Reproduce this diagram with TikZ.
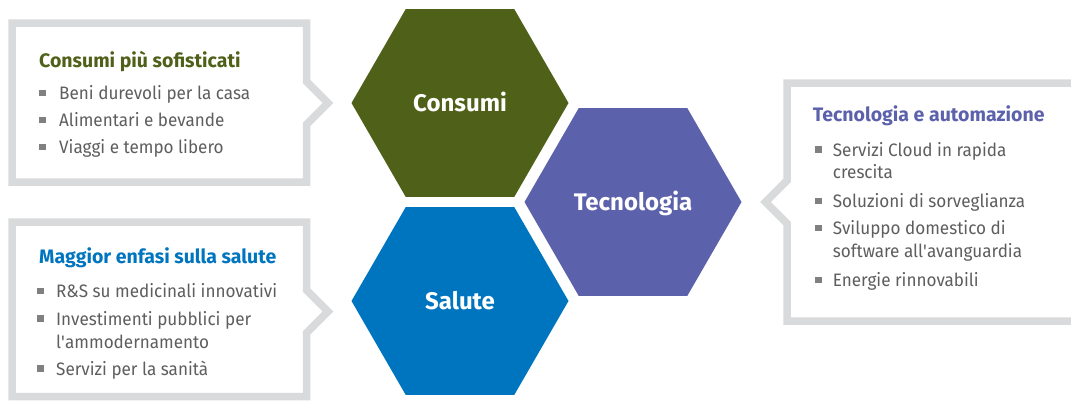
\documentclass[tikz,border=0pt]{standalone}
\usepackage{fontspec}
\setmainfont{Fira Sans}
\newfontfamily\itemfont{Fira Sans}[FakeStretch=0.95]
\usetikzlibrary{shapes.geometric}
\definecolor{cgreen}{HTML}{4F6119}
\definecolor{cpurple}{HTML}{5C61AB}
\definecolor{cblue}{HTML}{0075BF}
\definecolor{ctext}{HTML}{5E5E5E}
\definecolor{cbul}{HTML}{808080}
\definecolor{cborder}{HTML}{D9DADB}
\begin{document}
\begin{tikzpicture}[x=1pt,y=-1pt,
 callout/.style={draw=cborder,line width=7.5pt,fill=white,line join=miter},
 hexa/.style={regular polygon,regular polygon sides=6,minimum size=217pt,inner sep=0pt,outer sep=0pt,text=white,font=\fontsize{24}{24}\selectfont\bfseries,text height=17pt,text depth=0pt},
 ttl/.style={anchor=base west,inner sep=0pt,font=\fontsize{19.5}{19.5}\selectfont\bfseries},
 item/.style={anchor=base west,inner sep=0pt,text=ctext,font=\itemfont\fontsize{18}{18}\selectfont},
 bul/.style={fill=cbul,minimum size=6.5pt,inner sep=0pt,outer sep=0pt}]
\useasboundingbox (0,0) rectangle (1071,402);
% callout boxes
\draw[callout] (12,23) -- (306.5,23) -- (306.5,81.5) -- (328,103) -- (306.5,124.5) -- (306.5,182) -- (12,182) -- cycle;
\draw[callout] (12,222) -- (306.5,222) -- (306.5,290) -- (328,311.5) -- (306.5,333) -- (306.5,396.5) -- (12,396.5) -- cycle;
\draw[callout] (787,83) -- (1090,83) -- (1090,321) -- (787,321) -- (787,223.5) -- (765.5,202) -- (787,180.5) -- cycle;
% hexagons
\node[hexa,fill=cgreen] (hc) at (460,103) {Consumi};
\node[hexa,fill=cpurple] (ht) at (633,202) {Tecnologia};
\node[hexa,fill=cblue] (hs) at (460,301) {Salute};
% box 1
\node[ttl,text=cgreen] (t1) at (39,67) {Consumi più sofisticati};
\node[bul] (b1a) at (42.5,93) {};
\node[item] (i1a) at (59,99.5) {Beni durevoli per la casa};
\node[bul] (b1b) at (42.5,120) {};
\node[item] (i1b) at (59,126.5) {Alimentari e bevande};
\node[bul] (b1c) at (42.5,147) {};
\node[item] (i1c) at (59,153.5) {Viaggi e tempo libero};
% box 2
\node[ttl,text=cblue] (t2) at (39,263) {Maggior enfasi sulla salute};
\node[bul] (b2a) at (40.4,291.2) {};
\node[item] (i2a) at (56,297.7) {R\&S su medicinali innovativi};
\node[bul] (b2b) at (40.4,318.5) {};
\node[item] (i2b) at (56,325) {Investimenti pubblici per};
\node[item] (i2c) at (56,348.3) {l\textquotesingle ammodernamento};
\node[bul] (b2d) at (40.4,368.5) {};
\node[item] (i2d) at (56,375) {Servizi per la sanità};
% box 3
\node[ttl,text=cpurple] (t3) at (812.7,121.7) {Tecnologia e automazione};
\node[bul] (b3a) at (818.3,149.5) {};
\node[item] (i3a) at (832.7,156) {Servizi Cloud in rapida};
\node[item] (i3b) at (832.7,178.3) {crescita};
\node[bul] (b3c) at (818.3,201.2) {};
\node[item] (i3c) at (832.7,207.7) {Soluzioni di sorveglianza};
\node[bul] (b3d) at (818.3,227.8) {};
\node[item] (i3d) at (832.7,234.3) {Sviluppo domestico di};
\node[item] (i3e) at (832.7,257.7) {software all\textquotesingle avanguardia};
\node[bul] (b3f) at (818.3,280.2) {};
\node[item] (i3f) at (832.7,286.7) {Energie rinnovabili};
\end{tikzpicture}
\end{document}
